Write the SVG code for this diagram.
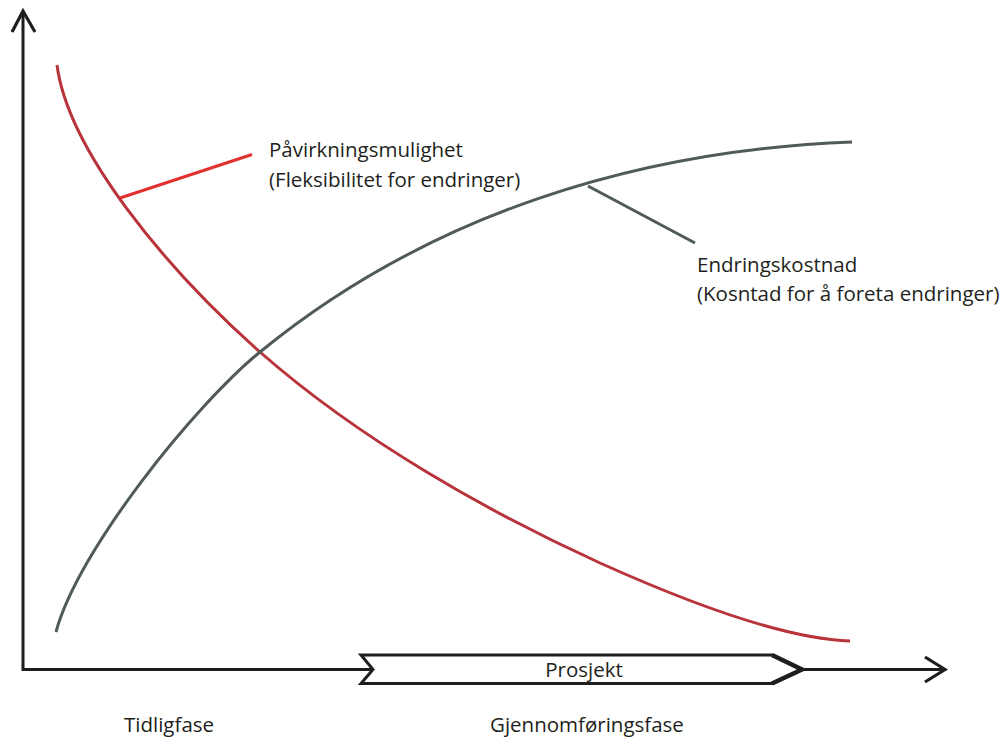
<svg xmlns="http://www.w3.org/2000/svg" width="1000" height="740" viewBox="0 0 1000 740">
  <style>
    .axis { fill: none; stroke: #1f1d1d; stroke-width: 3; stroke-linecap: round; stroke-linejoin: miter; }
    .head { fill: none; stroke: #1f1d1d; stroke-width: 3.2; stroke-linecap: butt; stroke-linejoin: miter; }
    .flex { fill: none; stroke: #b8333a; stroke-width: 3; stroke-linecap: butt; }
    .cost { fill: none; stroke: #505a56; stroke-width: 3; stroke-linecap: butt; }
    .lead-flex { fill: none; stroke: #e2302f; stroke-width: 3; }
    .lead-cost { fill: none; stroke: #505a56; stroke-width: 3; }
    text { font-family: "Open Sans", "Liberation Sans", sans-serif; font-size: 20.5px; fill: #231f20; }
  </style>

  <!-- axes -->
  <g id="axes">
    <path class="axis" d="M23,12 V669.5 H945"/>
    <path class="head" d="M12,32 L23,11 L35,32"/>
    <path class="head" d="M925,657 L945,669.5 L925,682"/>
  </g>

  <!-- curves -->
  <g id="curve-flexibility">
    <path class="flex" d="M57,65 C68,150 165,268 260,352 C360,440 490,513 600,563 C700,608 790,639 850,641"/>
  </g>
  <g id="curve-cost">
    <path class="cost" d="M56,632 C78,550 195,405 260,352 C430,213 640,150 852,142"/>
  </g>

  <!-- leader lines -->
  <g id="connectors">
    <line class="lead-flex" x1="120" y1="198" x2="252" y2="154.5"/>
    <line class="lead-cost" x1="588" y1="186" x2="695" y2="243"/>
  </g>

  <!-- project arrow on the time axis -->
  <g id="project">
    <path d="M361,655 H772 L802,669.5 L772,683.5 H361 L373,669.5 Z" fill="#ffffff" stroke="#1f1d1d" stroke-width="3" stroke-linejoin="miter"/>
    <path d="M772,655 L802,669.5 L772,683.5" fill="none" stroke="#1f1d1d" stroke-width="4.5" stroke-linejoin="miter"/>
    <text x="584" y="677" text-anchor="middle">Prosjekt</text>
  </g>

  <!-- labels -->
  <g id="label-flexibility">
    <text x="269" y="157">Påvirkningsmulighet</text>
    <text x="269" y="187">(Fleksibilitet for endringer)</text>
  </g>
  <g id="label-cost">
    <text x="697" y="272">Endringskostnad</text>
    <text x="697" y="301">(Kosntad for å foreta endringer)</text>
  </g>
  <g id="label-early">
    <text x="124" y="732">Tidligfase</text>
  </g>
  <g id="label-execution">
    <text x="490" y="732">Gjennomføringsfase</text>
  </g>
</svg>
